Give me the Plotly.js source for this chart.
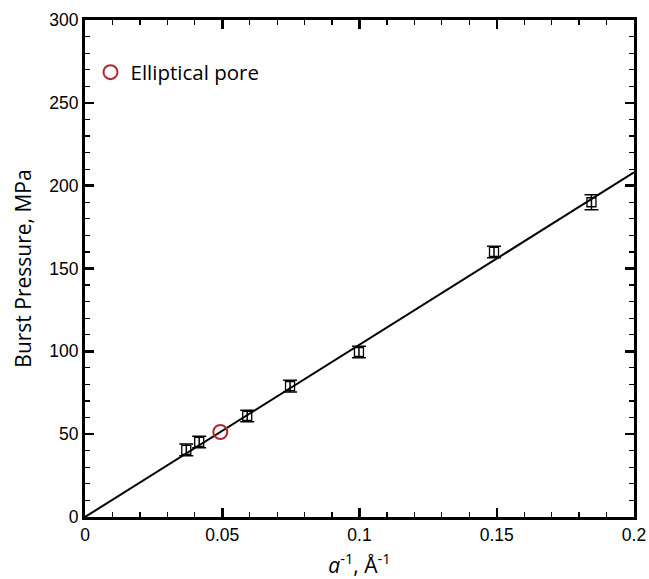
<!DOCTYPE html>
<html>
<head>
<meta charset="utf-8">
<script src="https://cdn.plot.ly/plotly-3.0.1.min.js"></script>
<style>html,body{margin:0;padding:0;background:#fff;}#chart{width:649px;height:579px;}</style>
</head>
<body>
<div id="chart"></div>
<script>
// Data
const invRadius = [0.0369, 0.0416, 0.0591, 0.0747, 0.0998, 0.149, 0.1845];
const burstPressure = [40.5, 45.3, 61, 79, 99.6, 160, 190];
const burstError = [3.5, 3.5, 3.5, 3.5, 3.5, 3.5, 4.5];
const ellipticalX = [0.0493];
const ellipticalY = [51.3];
const fitX = [0, 0.2];
const fitY = [0, 208];
const xTicks = [0, 0.05, 0.1, 0.15, 0.2];
const xTickLabels = ['0', '0.05', '0.1', '0.15', '0.2'];
const yTicks = [0, 50, 100, 150, 200, 250, 300];

const traces = [
  {x: fitX, y: fitY, mode: 'lines', line: {color: '#000', width: 2}, showlegend: false, hoverinfo: 'skip'},
  {x: invRadius, y: burstPressure, mode: 'markers', showlegend: false,
   marker: {symbol: 'square-open', size: 9, color: '#000', line: {width: 1.3, color: '#000'}},
   error_y: {type: 'data', array: burstError, visible: true, color: '#000', thickness: 1.5, width: 7}},
  {x: ellipticalX, y: ellipticalY, mode: 'markers', name: 'Elliptical pore',
   marker: {symbol: 'circle-open', size: 14, color: '#b5272d', line: {width: 2, color: '#b5272d'}}}
];

const axisCommon = {
  showline: true, linecolor: '#000', linewidth: 3, mirror: 'allticks',
  ticks: 'inside', ticklen: 9, tickwidth: 2.5, tickcolor: '#000',
  showgrid: false, zeroline: false,
  tickfont: {family: 'Liberation Sans, Arial, sans-serif', size: 17.5, color: '#000'}
};

const layout = {
  width: 649, height: 579,
  margin: {l: 84.5, r: 14.5, t: 20, b: 62},
  paper_bgcolor: '#fff', plot_bgcolor: '#fff',
  showlegend: true,
  legend: {x: 0.01, y: 0.935, xanchor: 'left', yanchor: 'top', bgcolor: 'rgba(0,0,0,0)',
           font: {family: 'Open Sans, Noto Sans, sans-serif', size: 20.5, color: '#000'}},
  xaxis: Object.assign({}, axisCommon, {
    range: [0, 0.2], tickvals: xTicks, ticktext: xTickLabels,
    minor: {dtick: 0.01, ticks: 'inside', ticklen: 5, tickwidth: 1.2, tickcolor: '#000', showgrid: false},
    title: {text: '<i>a</i><sup>-1</sup>, Å<sup>-1</sup>', standoff: 16,
            font: {family: 'Open Sans, Noto Sans, sans-serif', size: 21, color: '#000'}}
  }),
  yaxis: Object.assign({}, axisCommon, {
    range: [0, 300], tickvals: yTicks,
    minor: {dtick: 10, ticks: 'inside', ticklen: 5, tickwidth: 1.2, tickcolor: '#000', showgrid: false},
    title: {text: 'Burst Pressure, MPa', standoff: 12,
            font: {family: 'Open Sans, Noto Sans, sans-serif', size: 21, color: '#000'}}
  })
};

Plotly.newPlot('chart', traces, layout, {displayModeBar: false, staticPlot: true});
</script>
</body>
</html>
